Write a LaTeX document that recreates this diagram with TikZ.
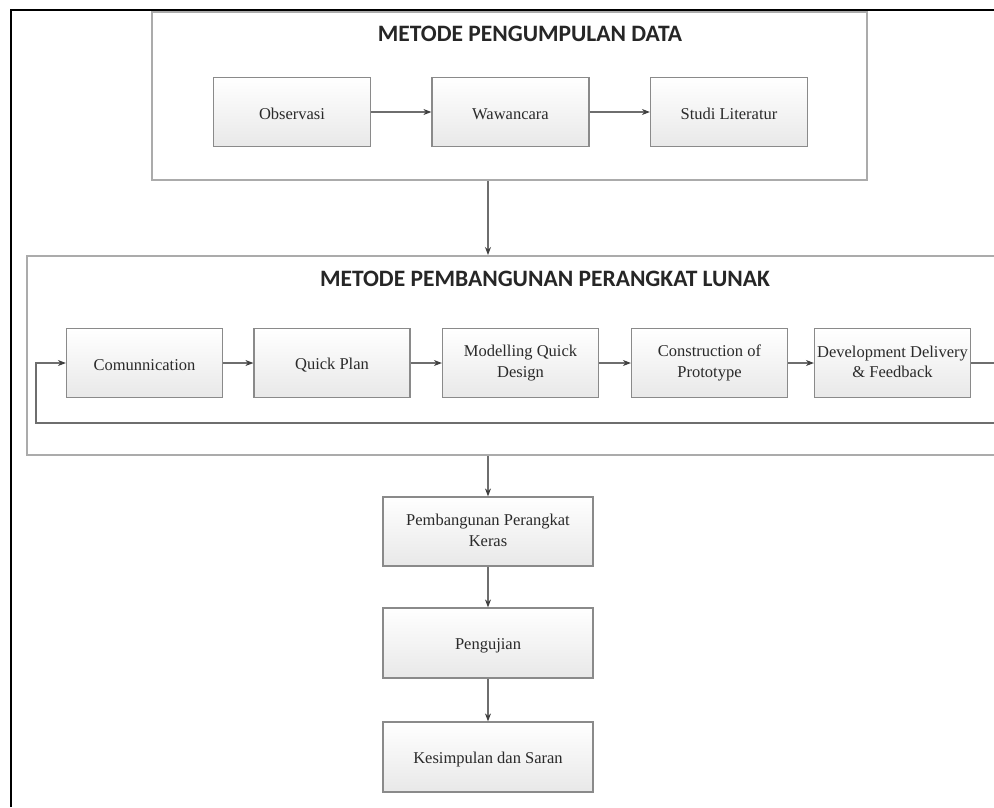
\documentclass[tikz,border=0pt]{standalone}
\usepackage{fontspec}
\setmainfont{Liberation Serif}
\newfontfamily\titlefont{Carlito}
\usetikzlibrary{arrows.meta,positioning}
\definecolor{boxline}{HTML}{8A8A8A}
\definecolor{frameline}{HTML}{ABABAB}
\definecolor{arrline}{HTML}{6E6E6E}
\definecolor{txt}{HTML}{2A2A2A}
\newcommand\boxstrut{\rule[-2pt]{0pt}{18pt}}
\tikzset{
  stepbox/.style={draw=boxline,line width=1.2pt,top color=white,bottom color=black!9,
    minimum width=156pt,minimum height=69pt,inner sep=1pt,align=center,text=txt,
    font=\fontsize{16.5}{20.5}\selectfont,
    execute at begin node=\boxstrut, execute at end node=\boxstrut},
  framebox/.style={draw=frameline,line width=1.8pt,fill=none},
  titletext/.style={font=\titlefont\bfseries\fontsize{23.5}{26}\selectfont,text=black!85},
  arr/.style={draw=arrline,line width=1.1pt,-{Stealth[length=8pt,width=6pt,color=black!75]}},
}
\begin{document}
\begin{tikzpicture}[x=1pt,y=-1pt]
\clip (0,0) rectangle (994,807);
\fill[white] (0,0) rectangle (994,807);
% screenshot edges
\draw[line width=2pt,black] (11,807) -- (11,10) -- (994,10);

% top frame
\node[framebox,minimum width=715pt,minimum height=168pt,inner sep=0pt] (topframe) at (509.5,96) {};
\node[titletext] (t1) at (530,34) {METODE PENGUMPULAN DATA};
\node[stepbox,minimum width=157pt] (obs) at (292,112) {Observasi};
\node[stepbox,minimum width=157pt] (waw) at (510.5,112) {Wawancara};
\node[stepbox,minimum width=157pt] (stu) at (729,112) {Studi Literatur};
\draw[arr] (obs) -- (waw);
\draw[arr] (waw) -- (stu);

% middle frame
\node[framebox,minimum width=990pt,minimum height=199pt,inner sep=0pt,anchor=north west] (midframe) at (26,255) {};
\node[titletext] (t2) at (545,279) {METODE PEMBANGUNAN PERANGKAT LUNAK};
\node[stepbox] (com) at (144.5,363) {Comunnication};
\node[stepbox] (qp) at (332,363) {Quick Plan};
\node[stepbox] (mqd) at (520.5,363) {Modelling Quick\\Design};
\node[stepbox] (cop) at (709.5,363) {Construction of\\Prototype};
\node[stepbox] (ddf) at (892.5,363) {Development Delivery\\\& Feedback};
\draw[arr] (com) -- (qp);
\draw[arr] (qp) -- (mqd);
\draw[arr] (mqd) -- (cop);
\draw[arr] (cop) -- (ddf);
\coordinate (lr) at (1005,363);
\coordinate (lb) at (36,423);
\draw[arr] (ddf.east) -- (lr) |- (lb) |- (com.west);

\coordinate (a1) at (488,0);
\draw[arr] (topframe.south -| a1) -- (midframe.north -| a1);

% bottom chain
\node[stepbox,minimum width=210pt,minimum height=69pt] (pph) at (488,531.5) {Pembangunan Perangkat\\Keras};
\node[stepbox,minimum width=210pt,minimum height=70pt] (uji) at (488,643) {Pengujian};
\node[stepbox,minimum width=210pt,minimum height=70pt] (kes) at (488,757) {Kesimpulan dan Saran};
\draw[arr] (midframe.south -| pph) -- (pph.north);
\draw[arr] (pph) -- (uji);
\draw[arr] (uji) -- (kes);
\end{tikzpicture}
\end{document}
